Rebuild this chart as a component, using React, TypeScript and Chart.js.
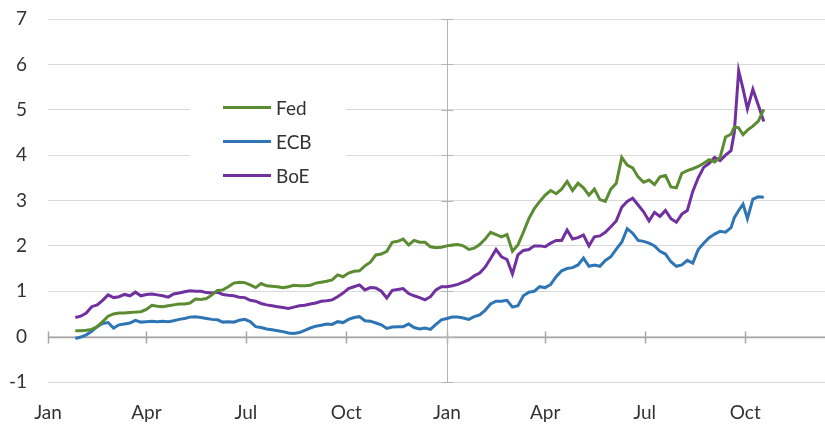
import React, { useEffect, useRef } from "react";
import { Chart, registerables } from "chart.js";

Chart.register(...registerables);

// x positions: days since 1 January of the first year
const days = [
  25, 30, 35, 40, 45, 50, 55, 60, 65, 70,
  75, 80, 85, 90, 95, 100, 105, 110, 115, 120,
  125, 130, 135, 140, 145, 150, 155, 160, 165, 170,
  175, 180, 185, 190, 195, 200, 205, 210, 215, 220,
  225, 230, 235, 240, 245, 250, 255, 260, 265, 270,
  275, 280, 285, 290, 295, 300, 305, 310, 315, 320,
  325, 330, 335, 340, 345, 350, 355, 360, 365, 370,
  375, 380, 385, 390, 395, 400, 405, 410, 415, 420,
  425, 430, 435, 440, 445, 450, 455, 460, 465, 470,
  475, 480, 485, 490, 495, 500, 505, 510, 515, 520,
  525, 530, 535, 540, 545, 550, 555, 560, 565, 570,
  575, 580, 585, 590, 595, 600, 605, 610, 615, 620,
  625, 628, 632, 636, 640, 645, 650, 655,
];

const fed = [
  0.13, 0.13, 0.14, 0.16, 0.22, 0.33, 0.45, 0.5, 0.52, 0.52,
  0.53, 0.54, 0.55, 0.6, 0.69, 0.67, 0.66, 0.68, 0.7, 0.72,
  0.72, 0.74, 0.83, 0.82, 0.84, 0.92, 1.02, 1.03, 1.1, 1.18,
  1.2, 1.19, 1.14, 1.08, 1.17, 1.12, 1.11, 1.1, 1.08, 1.1,
  1.13, 1.12, 1.12, 1.13, 1.18, 1.2, 1.22, 1.25, 1.36, 1.32,
  1.4, 1.44, 1.45, 1.56, 1.64, 1.8, 1.82, 1.88, 2.08, 2.1,
  2.15, 2.02, 2.12, 2.08, 2.08, 1.98, 1.96, 1.97, 2.0, 2.02,
  2.03, 2.0, 1.92, 1.95, 2.03, 2.15, 2.3, 2.25, 2.2, 2.25,
  1.88, 2.02, 2.3, 2.6, 2.82, 2.98, 3.12, 3.22, 3.15, 3.25,
  3.42, 3.22, 3.38, 3.28, 3.12, 3.25, 3.02, 2.98, 3.25, 3.38,
  3.95, 3.78, 3.72, 3.52, 3.4, 3.45, 3.35, 3.52, 3.55, 3.3,
  3.28, 3.6, 3.66, 3.7, 3.75, 3.82, 3.9, 3.85, 3.95, 4.4,
  4.46, 4.62, 4.6, 4.45, 4.55, 4.64, 4.75, 5.01,
];

const ecb = [
  -0.04, -0.01, 0.04, 0.12, 0.22, 0.29, 0.31, 0.19, 0.26, 0.28,
  0.3, 0.36, 0.32, 0.33, 0.34, 0.33, 0.34, 0.33, 0.35, 0.38,
  0.4, 0.43, 0.44, 0.42, 0.4, 0.38, 0.37, 0.32, 0.33, 0.32,
  0.36, 0.38, 0.33, 0.22, 0.2, 0.17, 0.15, 0.13, 0.11, 0.08,
  0.07, 0.09, 0.14, 0.19, 0.23, 0.25, 0.28, 0.27, 0.33, 0.31,
  0.38, 0.42, 0.44, 0.35, 0.34, 0.3, 0.26, 0.18, 0.21, 0.22,
  0.22, 0.28, 0.2, 0.17, 0.19, 0.16, 0.27, 0.37, 0.4, 0.43,
  0.43, 0.41, 0.38, 0.44, 0.48, 0.58, 0.72, 0.78, 0.78, 0.8,
  0.65, 0.68, 0.9, 0.98, 1.0, 1.1, 1.08, 1.15, 1.32, 1.45,
  1.5, 1.52, 1.58, 1.73, 1.55, 1.58, 1.55, 1.68, 1.76, 1.93,
  2.08, 2.38, 2.28, 2.12, 2.1, 2.06, 2.0, 1.88, 1.82, 1.65,
  1.55, 1.58, 1.68, 1.62, 1.92, 2.06, 2.18, 2.26, 2.32, 2.3,
  2.4, 2.62, 2.78, 2.92, 2.6, 3.03, 3.08, 3.07,
];

const boe = [
  0.42, 0.45, 0.52, 0.66, 0.7, 0.8, 0.92, 0.86, 0.88, 0.93,
  0.9, 0.98, 0.9, 0.93, 0.94, 0.92, 0.9, 0.87, 0.94, 0.96,
  0.99, 1.01, 1.0, 1.0, 0.97, 0.96, 0.98, 0.93, 0.91, 0.9,
  0.87, 0.86, 0.8, 0.78, 0.73, 0.7, 0.68, 0.66, 0.64, 0.62,
  0.65, 0.68, 0.69, 0.72, 0.74, 0.78, 0.79, 0.81, 0.88, 0.96,
  1.06, 1.1, 1.14, 1.03, 1.08, 1.07, 1.0, 0.85, 1.02, 1.04,
  1.06, 0.95, 0.9, 0.86, 0.81, 0.88, 1.03, 1.1, 1.1, 1.12,
  1.15, 1.2, 1.25, 1.34, 1.4, 1.53, 1.72, 1.92, 1.76, 1.7,
  1.38, 1.8, 1.9, 1.92, 2.0, 2.0, 1.98, 2.06, 2.12, 2.12,
  2.35, 2.15, 2.18, 2.24, 2.0, 2.2, 2.22, 2.3, 2.42, 2.55,
  2.85, 2.98, 3.05, 2.9, 2.75, 2.55, 2.74, 2.65, 2.78, 2.6,
  2.52, 2.7, 2.78, 3.2, 3.5, 3.73, 3.82, 3.95, 3.88, 4.0,
  4.1, 4.5, 5.86, 5.46, 5.02, 5.45, 5.1, 4.74,
];

const tickDays = [0, 90, 181, 273, 365, 455, 546, 638];
const tickLabels = ["Jan", "Apr", "Jul", "Oct", "Jan", "Apr", "Jul", "Oct"];
const seriesNames = ["Fed", "ECB", "BoE"];
const seriesColors = ["#5B8C32", "#2E75B6", "#7030A0"];
const yMin = -1;
const yMax = 7;
const xMax = 711;
const axisCrossDay = 365;

const FONT_FAMILY = "Lato, 'Liberation Sans', sans-serif";
const TEXT_COLOR = "#333333";
const FONT_SIZE = 19;

const excelAxes = {
  id: "excelAxes",
  beforeDatasetsDraw(chart: any) {
    const { ctx, chartArea, scales } = chart;
    const xs = scales.x;
    const ys = scales.y;
    ctx.save();
    // horizontal axis at zero
    const y0 = Math.round(ys.getPixelForValue(0)) + 0.5;
    ctx.strokeStyle = "#a6a6a6";
    ctx.lineWidth = 1.5;
    ctx.beginPath();
    ctx.moveTo(chartArea.left, y0);
    ctx.lineTo(chartArea.right, y0);
    tickDays.forEach((d) => {
      const px = Math.round(xs.getPixelForValue(d)) + 0.5;
      ctx.moveTo(px, y0 - 6);
      ctx.lineTo(px, y0 + 6);
    });
    ctx.stroke();
    // vertical axis crossing at second January
    const vx = Math.round(xs.getPixelForValue(axisCrossDay)) + 0.5;
    ctx.strokeStyle = "#b4b4b4";
    ctx.lineWidth = 1;
    ctx.beginPath();
    ctx.moveTo(vx, ys.getPixelForValue(yMax));
    ctx.lineTo(vx, ys.getPixelForValue(yMin));
    for (let v = yMin; v <= yMax; v++) {
      const py = Math.round(ys.getPixelForValue(v)) + 0.5;
      ctx.moveTo(vx - 6, py);
      ctx.lineTo(vx + 6, py);
    }
    ctx.stroke();
    ctx.restore();
  },
  afterDraw(chart: any) {
    const { ctx } = chart;
    ctx.save();
    ctx.fillStyle = "#ffffff";
    ctx.fillRect(190, 90, 156, 102);
    const rows = [107.5, 141.5, 175.5];
    seriesNames.forEach((name, i) => {
      ctx.strokeStyle = seriesColors[i];
      ctx.lineWidth = 3;
      ctx.beginPath();
      ctx.moveTo(223, rows[i]);
      ctx.lineTo(271, rows[i]);
      ctx.stroke();
      ctx.fillStyle = TEXT_COLOR;
      ctx.font = `${FONT_SIZE}px ${FONT_FAMILY}`;
      ctx.textBaseline = "middle";
      ctx.textAlign = "left";
      ctx.fillText(name, 276, rows[i] + 1);
    });
    ctx.restore();
  },
};

export default function App() {
  const canvasRef = useRef<HTMLCanvasElement | null>(null);

  useEffect(() => {
    const canvas = canvasRef.current;
    if (!canvas) return;
    const seriesValues = [fed, ecb, boe];
    const chart = new Chart(canvas, {
      type: "line",
      data: {
        datasets: seriesNames.map((name, i) => ({
          label: name,
          data: days.map((d, j) => ({ x: d, y: seriesValues[i][j] })),
          borderColor: seriesColors[i],
          backgroundColor: seriesColors[i],
          borderWidth: 3,
          pointRadius: 0,
          tension: 0,
          fill: false,
        })),
      },
      options: {
        animation: false,
        responsive: false,
        maintainAspectRatio: false,
        layout: { padding: { top: 19, right: 0, left: 0, bottom: 0 } },
        plugins: { legend: { display: false }, tooltip: { enabled: false } },
        scales: {
          x: {
            type: "linear",
            min: 0,
            max: xMax,
            grid: { display: false, drawTicks: false },
            border: { display: false },
            afterBuildTicks: (s: any) => {
              s.ticks = tickDays.map((v) => ({ value: v }));
            },
            afterFit: (s: any) => {
              s.height = 42;
              s.paddingLeft = 0;
              s.paddingRight = 0;
            },
            ticks: {
              autoSkip: false,
              maxRotation: 0,
              padding: 19,
              color: TEXT_COLOR,
              font: { family: FONT_FAMILY, size: FONT_SIZE },
              callback: (v: any) => {
                const k = tickDays.indexOf(Number(v));
                return k >= 0 ? tickLabels[k] : "";
              },
            },
          },
          y: {
            min: yMin,
            max: yMax,
            afterFit: (s: any) => {
              s.width = 48;
              s.paddingTop = 0;
              s.paddingBottom = 0;
            },
            grid: { color: "#d9d9d9", lineWidth: 1, drawTicks: false },
            border: { display: false },
            ticks: {
              stepSize: 1,
              padding: 21,
              color: TEXT_COLOR,
              font: { family: FONT_FAMILY, size: FONT_SIZE },
            },
          },
        },
      },
      plugins: [excelAxes],
    });
    return () => chart.destroy();
  }, []);

  return (
    <div style={{ position: "fixed", left: 0, top: 0, width: 825, height: 424, background: "#fff" }}>
      <canvas ref={canvasRef} width={825} height={424} style={{ display: "block" }} />
    </div>
  );
}
